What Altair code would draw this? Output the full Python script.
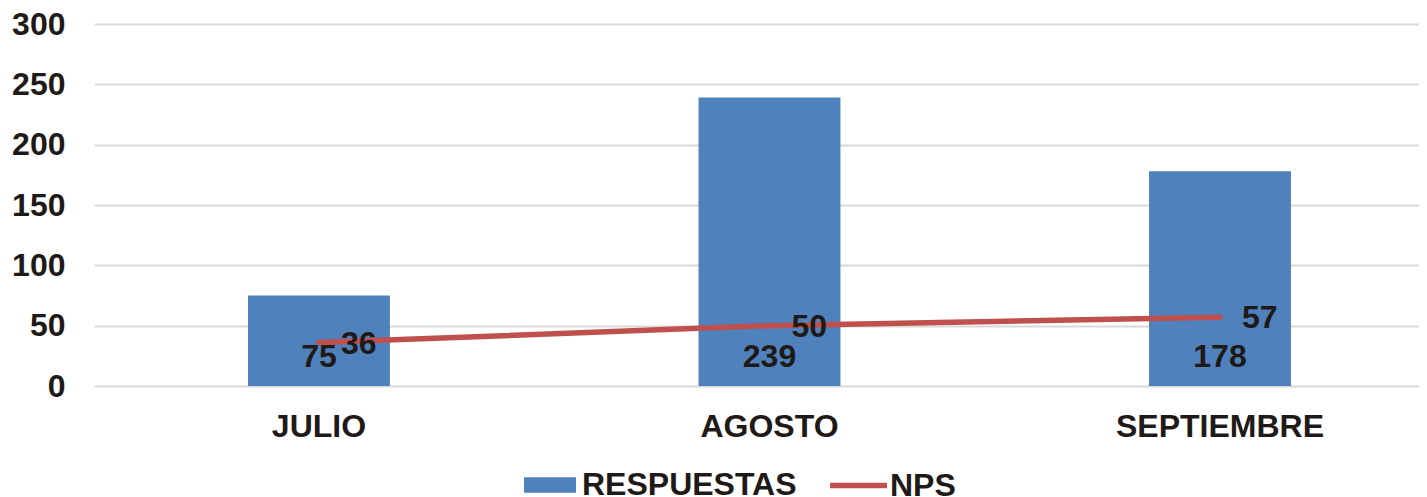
import altair as alt
import pandas as pd

meses = ["JULIO", "AGOSTO", "SEPTIEMBRE"]
respuestas = [75, 239, 178]
nps = [36, 50, 57]
y_ticks = [0, 50, 100, 150, 200, 250, 300]

df = pd.DataFrame({"mes": meses, "respuestas": respuestas, "nps": nps})

FONT = "Liberation Sans"
TXT = "#1f1a17"
BLUE = "#4f81bd"
RED = "#c0504d"
FS = 32

BAR_PATH = "M-1,-0.3H1V0.3H-1Z"
LINE_PATH = "M-1,0H1"

x = alt.X(
    "mes:N", sort=meses, title=None,
    scale=alt.Scale(paddingInner=0.685, paddingOuter=0.313, align=0.546),
    axis=alt.Axis(labelAngle=0, ticks=False, domain=False, grid=False,
                  labelPadding=25, labelFontSize=FS, labelFontWeight="bold",
                  labelColor=TXT, labelFont=FONT, labelLimit=500),
)

y_axis = alt.Axis(values=y_ticks, grid=True, gridColor="#d9d9d9",
                  gridWidth=2, domain=False, ticks=False,
                  labelPadding=29, labelFontSize=FS,
                  labelFontWeight="bold", labelColor=TXT,
                  labelFont=FONT)
y_scale = alt.Scale(domain=[0, 300])

legend_common = dict(
    title=None, orient="none", direction="horizontal", labelFontSize=FS,
    labelFont=FONT, labelFontWeight="bold", labelColor=TXT, labelLimit=500,
    padding=0,
)

base = alt.Chart(df)

bars = base.transform_calculate(serie="'RESPUESTAS'").mark_bar().encode(
    x=x,
    y=alt.Y("respuestas:Q", title=None, scale=y_scale, axis=y_axis),
    fill=alt.Fill("serie:N", scale=alt.Scale(domain=["RESPUESTAS"], range=[BLUE]),
                  legend=alt.Legend(legendX=430, legendY=435,
                                    symbolType=BAR_PATH, symbolSize=2704,
                                    symbolStrokeWidth=0, labelOffset=6,
                                    **legend_common)),
)

line = base.transform_calculate(serie="'NPS'").mark_line(
    strokeWidth=5.5, strokeCap="round"
).encode(
    x=x,
    y=alt.Y("nps:Q", title=None, scale=y_scale, axis=y_axis),
    stroke=alt.Stroke("serie:N", scale=alt.Scale(domain=["NPS"], range=[RED]),
                      legend=alt.Legend(legendX=733, legendY=430,
                                        symbolType=LINE_PATH, symbolSize=3249,
                                        symbolStrokeWidth=5.5, labelOffset=0,
                                        **legend_common)),
)

bar_labels = base.mark_text(
    dy=-29, baseline="middle", align="center", fontSize=FS,
    fontWeight="bold", color=TXT, font=FONT
).encode(x=x, y=alt.datum(0, scale=y_scale, axis=y_axis), text="respuestas:Q")

line_labels = base.mark_text(
    dx=22, dy=1, baseline="middle", align="left", fontSize=FS,
    fontWeight="bold", color=TXT, font=FONT
).encode(x=x, y=alt.Y("nps:Q", scale=y_scale, axis=y_axis), text="nps:Q")

chart = alt.layer(bars, line, bar_labels, line_labels).resolve_scale(
    fill="independent", stroke="independent"
).properties(
    width=1325, height=362,
    background="white",
    autosize=alt.AutoSizeParams(type="none"),
    padding={"left": 86, "top": 16, "right": 0, "bottom": 125},
).configure_view(stroke=None).configure_axis(domain=False)

chart.save("out.html", embed_options={"renderer": "svg", "actions": False})
